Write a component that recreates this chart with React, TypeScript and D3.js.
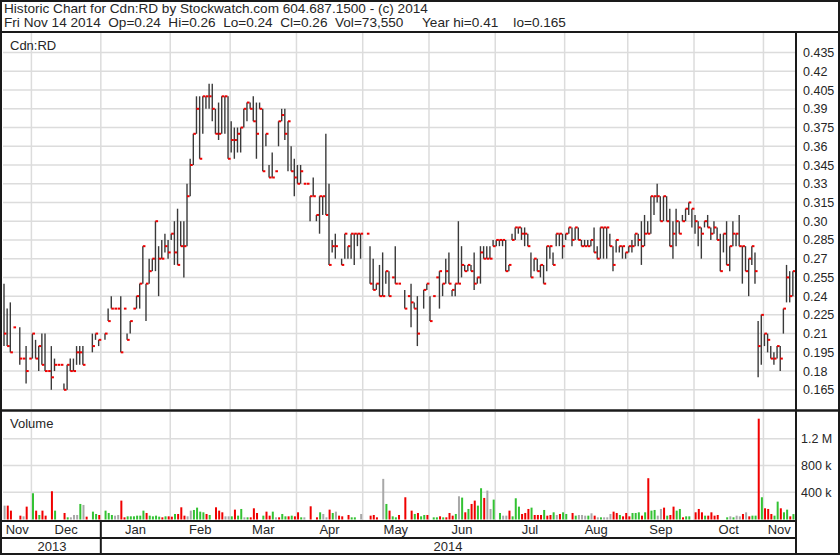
import React from 'react';
import * as d3 from 'd3';

const W = 840;
const H = 556;

// ---- data (one entry per trading day, Nov 19 2013 .. Nov 14 2014) ----
const highs: (number | null)[] = [
  .25,.23,.235,.215,null,.215,.19,.20,.19,.21,
  .205,.20,.21,.21,.18,.20,.19,.185,.185,.17,
  .185,.19,.19,.20,.20,.20,null,null,.21,.21,
  .205,null,.21,.23,.24,.23,.23,.24,.23,.21,
  .22,.23,.24,.25,.28,.25,.27,.27,.30,.28,
  .285,.29,.285,.29,.30,.31,.30,.30,.33,.35,
  .37,.40,.40,.40,.40,.41,.41,.39,.395,.40,
  .40,.40,.38,.375,.375,.375,.39,.395,.395,.40,
  .395,.395,.39,.37,.345,.355,.34,.38,.39,.39,
  .38,.36,.35,.345,.345,.33,.33,.32,.335,.305,
  .32,.32,.37,.33,.285,.29,null,.27,.29,.28,
  .29,.29,.29,.29,null,.29,.28,.27,.25,.265,
  .275,.26,.26,.255,.28,.25,null,.245,.24,.25,
  .235,.24,null,.245,.25,.24,.24,.255,.26,.25,
  .27,.275,.245,.25,.30,.28,.265,.265,.265,.275,
  .255,.28,.28,.28,.28,.285,.285,.285,.285,.285,
  .265,.29,.295,.295,.295,.295,.29,.275,.27,.27,
  .265,.265,.28,.28,.275,.29,.29,.29,.29,.295,
  .295,.295,.295,.285,.285,.285,.285,.295,.28,.295,
  .295,.295,.29,.28,.285,.28,.28,.275,.28,.285,
  .29,.29,.30,.305,.30,.32,.32,.33,.32,.32,
  .32,.31,.30,.31,.30,.305,.31,.315,.31,.305,
  .30,.295,.30,.305,.295,.30,.295,.29,.29,.30,
  .28,.30,.29,.305,.28,.28,.27,.28,.275,.22,
  .225,.21,.21,.20,.195,.20,.20,.23,.265,.26,.26,
];
const lows: (number | null)[] = [
  .20,.20,.195,.215,null,.185,.19,.17,.19,.19,
  .19,.18,.185,.18,.18,.165,.18,.185,.185,.165,
  .165,.18,.18,.185,.185,.185,null,null,.195,.205,
  .20,null,.205,.22,.23,.23,.23,.195,.23,.205,
  .21,.23,.23,.23,.25,.22,.25,.26,.26,.24,
  .27,.275,.27,.285,.265,.265,.28,.255,.28,.32,
  .345,.37,.35,.37,.39,.39,.38,.37,.365,.37,
  .37,.35,.355,.35,.355,.355,.375,.38,.39,.38,
  .35,.39,.34,.36,.335,.335,.34,.36,.38,.365,
  .34,.34,.32,.33,.33,.33,.33,.30,.32,.30,
  .29,.305,.305,.265,.275,.27,null,.265,.27,.27,
  .27,.265,.28,.27,null,.29,.25,.245,.245,.24,
  .24,.25,.24,.255,.25,.25,null,.23,.24,.215,
  .23,.20,null,.23,.245,.22,.24,.255,.23,.24,
  .25,.25,.24,.24,.25,.255,.26,.26,.26,.245,
  .25,.25,.27,.27,.27,.28,.28,.28,.28,.26,
  .26,.285,.285,.29,.285,.28,.28,.255,.26,.26,
  .255,.25,.26,.27,.265,.28,.28,.27,.285,.29,
  .28,.285,.285,.28,.28,.28,.28,.275,.27,.27,
  .27,.27,.28,.26,.275,.275,.27,.27,.275,.275,
  .28,.28,.265,.28,.29,.29,.305,.315,.30,.30,
  .30,.28,.27,.28,.29,.30,.30,.305,.295,.29,
  .28,.27,.295,.295,.285,.29,.285,.26,.275,.265,
  .26,.28,.28,.28,.25,.26,.24,.265,.25,.175,
  .185,.20,.195,.19,.185,.19,.18,.21,.235,.235,.24,
];
const closes: (number | null)[] = [
  .21,.20,.195,.215,null,.19,.19,.18,.19,.21,
  .19,.20,.185,.18,.18,.175,.185,.185,.185,.165,
  .185,.18,.18,.195,.195,.185,null,null,.20,.21,
  .205,null,.21,.22,.23,.23,.23,.195,.23,.205,
  .22,.23,.24,.25,.28,.25,.26,.27,.30,.27,
  .27,.28,.275,.29,.275,.265,.28,.28,.32,.345,
  .37,.39,.35,.40,.40,.40,.39,.37,.37,.40,
  .40,.35,.365,.365,.37,.375,.39,.395,.39,.38,
  .37,.39,.34,.37,.335,.335,.34,.38,.385,.37,
  .38,.34,.335,.33,.34,.33,.33,.32,.32,.305,
  .32,.32,.305,.265,.28,.28,null,.265,.29,.28,
  .29,.29,.29,.29,null,.29,.25,.245,.25,.24,
  .24,.26,.24,.255,.25,.25,null,.23,.24,.235,
  .23,.21,null,.245,.25,.22,.24,.255,.26,.25,
  .26,.25,.245,.25,.25,.265,.26,.265,.26,.25,
  .255,.275,.27,.27,.27,.28,.285,.285,.285,.26,
  .265,.285,.295,.295,.29,.29,.28,.255,.27,.26,
  .265,.25,.28,.28,.265,.29,.29,.28,.29,.295,
  .285,.295,.285,.28,.28,.28,.285,.275,.27,.295,
  .295,.295,.28,.265,.285,.28,.28,.275,.28,.28,
  .29,.285,.28,.29,.29,.32,.32,.32,.30,.32,
  .30,.28,.29,.30,.29,.30,.31,.315,.31,.30,
  .295,.29,.30,.295,.29,.295,.285,.26,.29,.265,
  .28,.29,.29,.28,.28,.26,.27,.28,.26,.20,
  .225,.21,.205,.19,.19,.20,.19,.23,.255,.24,.26,
];
// volume in thousands of shares
const volumes: number[] = [
  200,200,125,0,0,50,40,185,0,385,
  125,60,125,50,0,415,125,0,0,90,
  25,25,60,60,225,210,35,0,110,75,
  60,0,125,90,60,50,60,275,25,40,
  40,40,50,50,125,90,50,40,50,35,
  25,40,40,35,75,75,175,50,40,125,
  135,170,110,100,75,60,0,175,125,100,
  40,40,40,140,50,150,25,25,25,160,
  90,0,50,110,50,110,25,25,75,40,
  40,50,40,100,25,25,0,190,0,25,
  100,75,25,140,90,110,50,40,0,60,
  25,25,0,75,0,0,50,60,25,0,
  600,225,125,40,25,60,0,325,0,125,
  75,90,40,60,60,0,25,25,40,25,
  25,90,50,75,340,320,100,150,225,275,
  200,460,315,425,150,290,0,90,50,50,
  125,40,310,185,75,90,150,170,60,60,
  60,135,50,60,100,60,75,100,75,0,
  90,50,60,60,50,50,85,50,25,25,
  25,25,75,110,90,60,40,90,40,90,
  90,100,50,100,610,125,135,50,150,170,
  50,60,185,125,150,25,40,40,0,100,
  150,100,50,50,100,50,60,0,0,25,
  40,25,50,40,75,100,40,50,50,1500,
  325,160,150,75,50,260,160,100,140,40,73.55,
];
// u = up (green), d = down (red), n = unchanged (grey), - = no trade
const volumeDirs: string[] = (
  'ndd--dnd-u' + 'dudd-du--d' + 'unnnund-uu' + 'd-uuunnddu' + 'uuuuuduuuu' +
  'duddudddnn' + 'uuuudu-ddd' + 'nnuduunudd' + 'd-uddunduu' + 'duddun-d-d' +
  'unndundd-d' + 'uu-n--ddd-' + 'nuduud-d-d' + 'uduud-uudu' + 'dddunududd' +
  'uudnnu-unn' + 'duuudddudd' + 'duddunduu-' + 'dunnnundnu' + 'nnnddudddu' +
  'uududuunnd' + 'udduuduu-d' + 'ddudddd--u' + 'nunndnduud' + 'uddduuduudu'
).split('');

const priceTicks = [0.165, 0.18, 0.195, 0.21, 0.225, 0.24, 0.255, 0.27, 0.285, 0.30,
  0.315, 0.33, 0.345, 0.36, 0.375, 0.39, 0.405, 0.42, 0.435];
const volumeTicks = [400, 800, 1200];
const volumeTickLabels = ['400 k', '800 k', '1.2 M'];

const HOLIDAYS = ['2014-01-01', '2014-02-17', '2014-04-18', '2014-05-19',
  '2014-07-01', '2014-08-04', '2014-09-01', '2014-10-13'];
const FIRST_DAY = new Date(2013, 10, 19);
const LAST_DAY = new Date(2014, 10, 14);

const headerLine1 = 'Historic Chart for Cdn:RD by Stockwatch.com 604.687.1500 - (c) 2014';
const headerLine2 = 'Fri Nov 14 2014  Op=0.24  Hi=0.26  Lo=0.24  Cl=0.26  Vol=73,550     Year hi=0.41    lo=0.165';
const symbol = 'Cdn:RD';

function tradingDays(): Date[] {
  const fmt = d3.timeFormat('%Y-%m-%d');
  return d3.timeDay.range(FIRST_DAY, d3.timeDay.offset(LAST_DAY, 1))
    .filter(d => d.getDay() !== 0 && d.getDay() !== 6 && !HOLIDAYS.includes(fmt(d)));
}

const FONT = '"Liberation Sans", Arial, sans-serif';
const TXT = '#262626';

export default function App() {
  const dates = tradingDays();
  const n = dates.length;

  const left = 3, right = 795;
  const x = d3.scaleLinear().domain([0, n]).range([left, right]);
  const y = d3.scaleLinear().domain([0.165, 0.435]).range([389.8, 52.6]);
  const yv = d3.scaleLinear().domain([0, 1600]).range([519, 412]);

  const monthStarts: number[] = [];
  dates.forEach((d, i) => { if (i > 0 && d.getMonth() !== dates[i - 1].getMonth()) monthStarts.push(i); });
  const monthSpans = [0, ...monthStarts].map((s, k, arr) => ({
    s, e: k + 1 < arr.length ? arr[k + 1] : n, label: d3.timeFormat('%b')(dates[s]),
  }));
  const yearStarts: number[] = [0];
  dates.forEach((d, i) => { if (i > 0 && d.getFullYear() !== dates[i - 1].getFullYear()) yearStarts.push(i); });
  const yearSpans = yearStarts.map((s, k) => ({
    s, e: k + 1 < yearStarts.length ? yearStarts[k + 1] : n, label: String(dates[s].getFullYear()),
  }));

  const fmtPrice = (v: number) => d3.format('.3f')(v).replace(/0$/, '');
  const volColor: Record<string, string> = { u: '#33c233', d: '#f00000', n: '#a8a8a8' };

  const grid = '#dcdcdc';
  const border = '#1a1a1a';

  return (
    <div style={{ position: 'absolute', left: 0, top: 0 }}>
      <svg width={W} height={H} style={{ display: 'block', fontFamily: FONT }}>
        <rect x={0} y={0} width={W} height={H} fill="#fff" />

        {/* gridlines price panel */}
        {priceTicks.map(t => (
          <line key={'pg' + t} x1={left} x2={right} y1={y(t)} y2={y(t)} stroke={grid} strokeWidth={1.5} />
        ))}
        {monthStarts.map(i => (
          <line key={'vg' + i} x1={x(i)} x2={x(i)} y1={33} y2={409} stroke={grid} strokeWidth={1.5} />
        ))}
        {/* gridlines volume panel */}
        {volumeTicks.map(t => (
          <line key={'vgh' + t} x1={left} x2={right} y1={yv(t)} y2={yv(t)} stroke={grid} strokeWidth={1.5} />
        ))}
        {monthStarts.map(i => (
          <line key={'vvg' + i} x1={x(i)} x2={x(i)} y1={412} y2={520} stroke={grid} strokeWidth={1.5} />
        ))}

        {/* volume bars */}
        {volumes.map((v, i) => v > 0 && volumeDirs[i] !== '-' ? (
          <rect key={'v' + i} x={x(i) + 0.6} width={2} y={yv(v)} height={519.5 - yv(v)}
            fill={volColor[volumeDirs[i]]} />
        ) : null)}

        {/* price bars */}
        {highs.map((h, i) => {
          const l = lows[i], c = closes[i];
          if (h == null || l == null || c == null) return null;
          return (
            <g key={'b' + i}>
              {h !== l && (
                <line x1={x(i) + 1} x2={x(i) + 1} y1={y(h)} y2={y(l)} stroke="#3a3a3a" strokeWidth={1.4} />
              )}
              <rect x={x(i) + 1} y={y(c) - 1} width={2.6} height={2} fill="#f00000" />
            </g>
          );
        })}

        {/* frame lines */}
        <rect x={1} y={1} width={838} height={553} fill="none" stroke={border} strokeWidth={2} />
        <line x1={0} x2={W} y1={32} y2={32} stroke={border} strokeWidth={2} />
        <line x1={0} x2={W} y1={410.5} y2={410.5} stroke={border} strokeWidth={2.5} />
        <line x1={0} x2={797} y1={521} y2={521} stroke={border} strokeWidth={2} />
        <line x1={0} x2={797} y1={538} y2={538} stroke={border} strokeWidth={2} />
        <line x1={796} x2={796} y1={32} y2={555} stroke={border} strokeWidth={2} />
        {yearStarts.slice(1).map(i => (
          <line key={'ys' + i} x1={x(i)} x2={x(i)} y1={521} y2={554} stroke={border} strokeWidth={2} />
        ))}

        {/* header */}
        <text x={4} y={13} fontSize={13.6} fill={TXT}>{headerLine1}</text>
        <text x={4} y={27} fontSize={13.6} fill={TXT} style={{ whiteSpace: 'pre' }}>{headerLine2}</text>

        {/* panel labels */}
        <text x={10} y={50} fontSize={13} fill={TXT}>{symbol}</text>
        <text x={10} y={428} fontSize={13} fill={TXT}>Volume</text>

        {/* price axis labels */}
        {priceTicks.map(t => (
          <text key={'pl' + t} x={803} y={y(t) + 4.5} fontSize={12.5} fill={TXT}>{fmtPrice(t)}</text>
        ))}
        {volumeTicks.map((t, k) => (
          <text key={'vl' + t} x={801} y={yv(t) + 4.5} fontSize={12.5} fill={TXT}>{volumeTickLabels[k]}</text>
        ))}

        {/* month + year labels */}
        {monthSpans.map(m => (
          <text key={'m' + m.s} x={(x(m.s) + x(m.e)) / 2} y={534} fontSize={13} fill={TXT} textAnchor="middle">{m.label}</text>
        ))}
        {yearSpans.map(ys => (
          <text key={'y' + ys.s} x={(x(ys.s) + x(ys.e)) / 2} y={551} fontSize={13} fill={TXT} textAnchor="middle">{ys.label}</text>
        ))}
      </svg>
    </div>
  );
}
